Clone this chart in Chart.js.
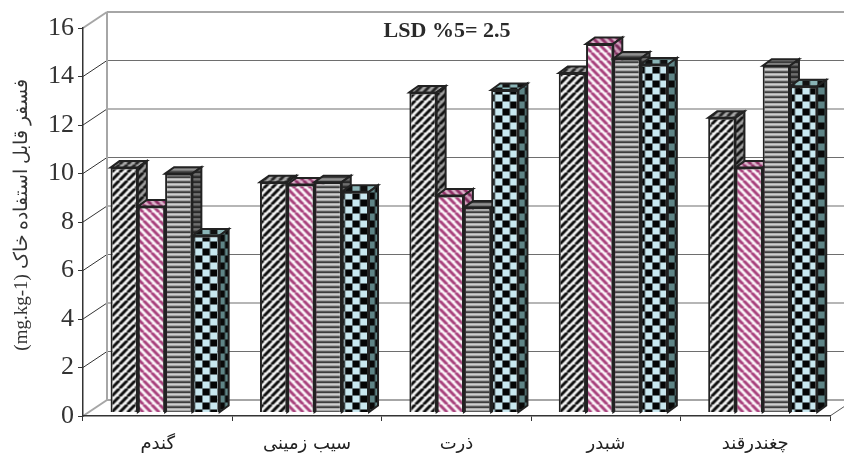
<!DOCTYPE html>
<html>
<head>
<meta charset="utf-8">
<title>chart</title>
<script src="https://cdn.jsdelivr.net/npm/chart.js@4"></script>
<style>
    html, body { margin: 0; padding: 0; background: #fff; }
    canvas { display: block; }
</style>
</head>
<body>
<canvas id="grafico" width="844" height="453"></canvas>
<script>
const categories = ['گندم', 'سیب زمینی', 'ذرت', 'شبدر', 'چغندرقند'];
const series1 = [10.1, 9.5, 13.2, 14.0, 12.15];
const series2 = [8.5, 9.4, 8.95, 15.2, 10.1];
const series3 = [9.85, 9.5, 8.45, 14.6, 14.3];
const series4 = [7.3, 9.1, 13.3, 14.35, 13.45];
const yTicks = [0, 2, 4, 6, 8, 10, 12, 14, 16];
const yTitle = '\u00a0\u00a0\u00a0(mg.kg-1) فسفر قابل استفاده خاک';
const note = 'LSD %5= 2.5';

function tile(w, h, bg, paint) {
    const c = document.createElement('canvas');
    c.width = w;
    c.height = h;
    const g = c.getContext('2d');
    g.fillStyle = bg;
    g.fillRect(0, 0, w, h);
    paint(g);
    return document.createElement('canvas').getContext('2d').createPattern(c, 'repeat');
}

function diagUp(fg, bg) {
    return tile(8, 8, bg, g => {
        g.strokeStyle = fg;
        g.lineWidth = 3;
        for (let i = -8; i <= 16; i += 8) {
            g.beginPath();
            g.moveTo(i, 8);
            g.lineTo(i + 8, 0);
            g.stroke();
        }
    });
}

function diagDown(fg, bg) {
    return tile(8, 8, bg, g => {
        g.strokeStyle = fg;
        g.lineWidth = 3;
        for (let i = -8; i <= 16; i += 8) {
            g.beginPath();
            g.moveTo(i, 0);
            g.lineTo(i + 8, 8);
            g.stroke();
        }
    });
}

function lines(fg, bg, mid) {
    return tile(5, 5, bg, g => {
        g.fillStyle = fg;
        g.fillRect(0, 0, 5, 1.6);
        g.fillStyle = mid;
        g.fillRect(0, 3, 5, 2);
    });
}

function checker(fg, bg) {
    return tile(15, 14, bg, g => {
        g.fillStyle = fg;
        g.fillRect(0, 0, 7.5, 7);
        g.fillRect(7.5, 7, 7.5, 7);
    });
}

// front, top, side of each series
const looks = [
    { front: diagUp('#0c0c0c', '#f2f2f2'), top: diagUp('#222', '#a8a8a8'), side: diagUp('#111', '#a0a0a0') },
    { front: diagDown('#a8407c', '#fbf5f8'), top: diagDown('#8e2f66', '#dcb6cc'), side: diagDown('#7a2a5a', '#d0a0bc') },
    { front: lines('#111', '#f4f4f4', '#a8a8a8'), top: lines('#222', '#aaa', '#777'), side: lines('#111', '#888', '#555') },
    { front: checker('#050505', '#c9e8f0'), top: checker('#111', '#8ab4b6'), side: checker('#0a0a0a', '#5f8587') }
];

// bars stand a little behind the axis plane, the wall further back
const barShift = { x: 7.4, y: -3.5 };
const depth = { x: 9, y: 6.5 };
const wall = { x: 24, y: -16 };

function seg(ctx, x1, y1, x2, y2, color, width) {
    ctx.strokeStyle = color;
    ctx.lineWidth = width;
    ctx.beginPath();
    ctx.moveTo(x1, y1);
    ctx.lineTo(x2, y2);
    ctx.stroke();
}

function poly(ctx, pts, fill) {
    ctx.beginPath();
    pts.forEach((p, i) => i ? ctx.lineTo(p[0], p[1]) : ctx.moveTo(p[0], p[1]));
    ctx.closePath();
    ctx.fillStyle = fill;
    ctx.fill();
    ctx.strokeStyle = '#222';
    ctx.lineWidth = 2;
    ctx.stroke();
}

const wallPlugin = {
    id: 'wallPlugin',
    beforeDraw(chart) {
        const { ctx, scales } = chart;
        const left = scales.x.left;
        const right = scales.x.right;
        const wallLeft = left + wall.x;
        ctx.save();
        yTicks.forEach(v => {
            const py = scales.y.getPixelForValue(v);
            const edge = v === 0 || v === 16;
            seg(ctx, wallLeft, py + wall.y, chart.width, py + wall.y, edge ? '#a6a6a6' : '#6e6e6e', edge ? 2 : 1.2);
            seg(ctx, left, py, wallLeft, py + wall.y, edge ? '#a6a6a6' : '#333', edge ? 2 : 1);
        });
        seg(ctx, wallLeft, scales.y.getPixelForValue(16) + wall.y, wallLeft, scales.y.getPixelForValue(0) + wall.y, '#a6a6a6', 2);
        const py0 = scales.y.getPixelForValue(0);
        seg(ctx, right, py0, right + wall.x, py0 + wall.y, '#555', 1);
        ctx.restore();
    },
    beforeDatasetsDraw(chart) {
        // drawn by hand so that each bar covers the side of the one on its left
        const { ctx } = chart;
        ctx.save();
        ctx.translate(barShift.x, barShift.y);
        chart.data.datasets.forEach((ds, i) => {
            chart.getDatasetMeta(i).data.forEach(bar => {
                const { x, y, base, width } = bar.getProps(['x', 'y', 'base', 'width'], true);
                const l = x - width / 2;
                const r = x + width / 2;
                poly(ctx, [[l, y], [l + depth.x, y - depth.y], [r + depth.x, y - depth.y], [r, y]], looks[i].top);
                poly(ctx, [[r, y], [r + depth.x, y - depth.y], [r + depth.x, base - depth.y], [r, base]], looks[i].side);
                bar.draw(ctx);
            });
        });
        ctx.restore();

        ctx.save();
        ctx.font = 'bold 22px "Liberation Serif"';
        ctx.fillStyle = '#2a2a2a';
        ctx.textAlign = 'center';
        ctx.textBaseline = 'middle';
        ctx.fillText(note, 447, 31);
        ctx.restore();
        return false;
    }
};

new Chart(document.getElementById('grafico'), {
    type: 'bar',
    data: {
        labels: categories,
        datasets: [series1, series2, series3, series4].map((values, i) => ({
            data: values,
            backgroundColor: looks[i].front,
            borderColor: '#222',
            borderWidth: 2,
            categoryPercentage: 0.73,
            barPercentage: 1
        }))
    },
    options: {
        responsive: false,
        animation: false,
        devicePixelRatio: 1,
        layout: { padding: { top: 28, right: 14, left: 0, bottom: 0 } },
        plugins: { legend: { display: false }, tooltip: { enabled: false } },
        scales: {
            x: {
                afterFit(scale) { scale.height = 37; },
                border: { color: '#333', width: 1.5 },
                grid: { drawOnChartArea: false, tickLength: 5, color: '#333' },
                ticks: { color: '#222', font: { family: '"DejaVu Sans"', size: 18 }, padding: 13, maxRotation: 0 }
            },
            y: {
                min: 0,
                max: 16,
                afterFit(scale) { scale.width = 83; },
                afterBuildTicks(scale) { scale.ticks = yTicks.map(v => ({ value: v })); },
                border: { color: '#333', width: 1.5 },
                grid: { drawOnChartArea: false, tickLength: 5, color: '#333' },
                ticks: { color: '#333', font: { family: '"Liberation Serif"', size: 26 }, padding: 4 },
                title: {
                    display: true,
                    text: yTitle,
                    color: '#333',
                    font: { family: '"Liberation Serif"', size: 19 },
                    padding: { top: 11, bottom: 0 }
                }
            }
        }
    },
    plugins: [wallPlugin]
});
</script>
</body>
</html>
